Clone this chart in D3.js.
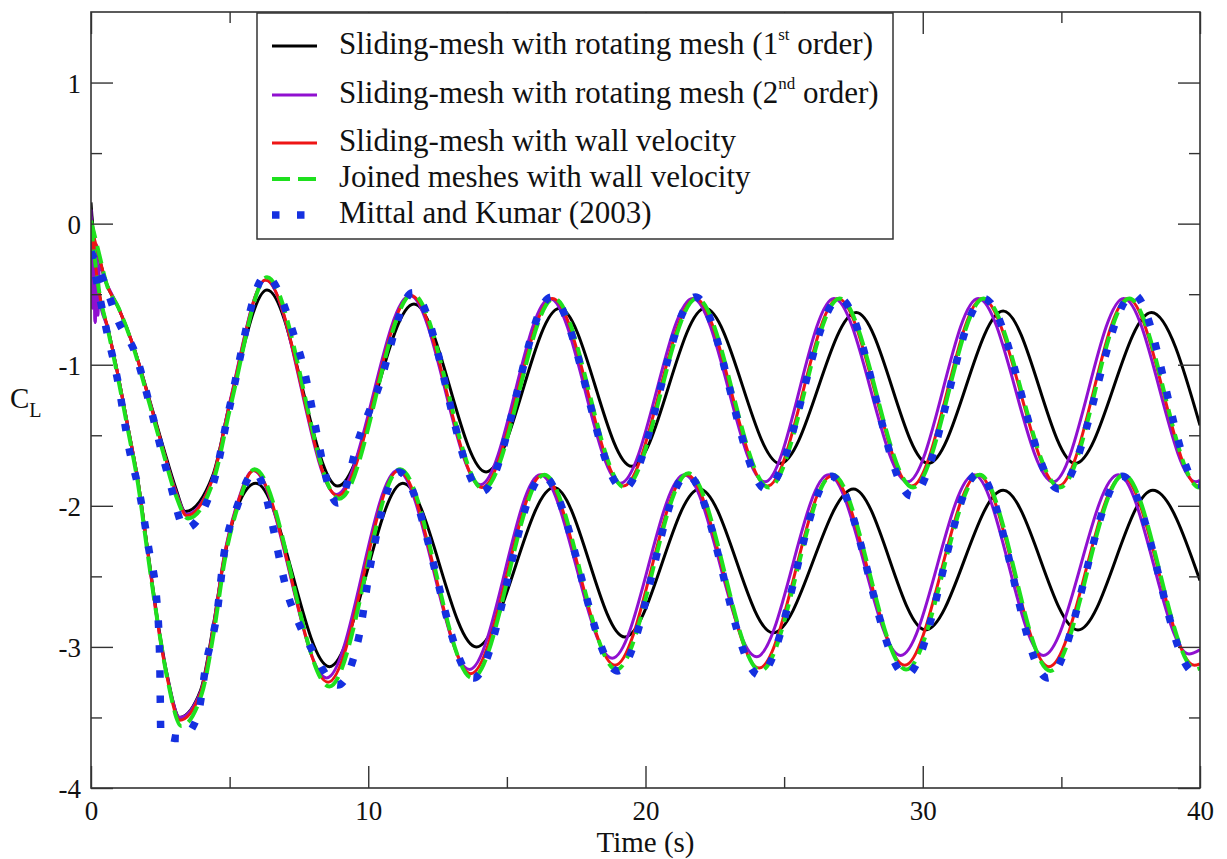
<!DOCTYPE html>
<html>
<head>
<meta charset="utf-8">
<script src="https://cdn.jsdelivr.net/npm/d3@7"></script>
<style>
  body { margin: 0; background: #fff; }
  svg { display: block; }
  text { font-family: 'Liberation Serif', 'Times New Roman', serif; fill: #111; }
  .frame { fill: none; stroke: #333; stroke-width: 1.6; }
  .axis .tick line { stroke: #333; stroke-width: 1.4; }
  .axis .tick text { font-size: 27px; }
  .axis path.domain { display: none; }
  .legend-text { font-size: 31px; }
</style>
</head>
<body>
<svg id="chart" width="1227" height="859"></svg>
<script>
//////////////////////////////////////////////////////////////////////////////////////////
// Data (time in s, lift coefficient C_L)
//////////////////////////////////////////////////////////////////////////////////////////

var x_major_ticks = [0, 10, 20, 30, 40]
var x_minor_ticks = [5, 15, 25, 35]
var y_major_ticks = [-4, -3, -2, -1, 0, 1]
var y_minor_ticks = [-3.5, -2.5, -1.5, -0.5, 0.5]

var legend_labels = [
  ['Sliding-mesh with rotating mesh (1', 'st', 'order)'],
  ['Sliding-mesh with rotating mesh (2', 'nd', 'order)'],
  ['Sliding-mesh with wall velocity'],
  ['Joined meshes with wall velocity'],
  ['Mittal and Kumar (2003)']
]

// upper group of curves
var rot1_upper = [[0, 0.15], [0.1, -0.1], [0.3, -0.25], [0.55, -0.42], [1.0, -0.6], [1.55, -0.88],
  [2.1, -1.24], [2.6, -1.58], [3.05, -1.87], [3.4, -2.04], [4.4, -1.78], [5.0, -1.28], [6.35, -0.47],
  [8.9, -1.86], [11.65, -0.57], [14.25, -1.76], [16.9, -0.6], [19.5, -1.72], [22.15, -0.6],
  [24.85, -1.7], [27.6, -0.63], [30.2, -1.7], [32.9, -0.62], [35.5, -1.7], [38.25, -0.63], [40, -1.43]]

var rot2_upper = [[0, 0.1], [0.05, -0.6], [0.1, -0.05], [0.15, -0.7], [0.2, -0.15], [0.25, -0.65],
  [0.3, -0.3], [0.55, -0.42], [1.0, -0.6], [1.55, -0.88], [2.1, -1.25], [2.6, -1.6], [3.05, -1.89],
  [3.45, -2.06], [4.4, -1.8], [5.0, -1.27], [6.3, -0.4], [8.85, -1.92], [11.5, -0.51], [14.05, -1.85],
  [16.55, -0.53], [19.1, -1.84], [21.7, -0.53], [24.3, -1.83], [26.8, -0.53], [29.45, -1.83],
  [32.0, -0.53], [34.7, -1.83], [37.25, -0.53], [39.85, -1.83], [40, -1.82]]

var wall_upper = [[0, -0.02], [0.3, -0.24], [0.55, -0.42], [1.0, -0.6], [1.55, -0.88], [2.1, -1.25],
  [2.6, -1.6], [3.05, -1.9], [3.45, -2.07], [4.4, -1.8], [5.0, -1.28], [6.3, -0.4], [8.9, -1.93],
  [11.55, -0.51], [14.1, -1.87], [16.65, -0.53], [19.2, -1.86], [21.8, -0.53], [24.4, -1.86],
  [26.95, -0.53], [29.6, -1.86], [32.15, -0.53], [34.9, -1.86], [37.4, -0.53], [39.95, -1.86], [40, -1.86]]

var joined_upper = [[0, 0.02], [0.3, -0.22], [0.55, -0.42], [1.0, -0.6], [1.55, -0.89], [2.1, -1.27],
  [2.6, -1.62], [3.05, -1.92], [3.5, -2.09], [4.45, -1.8], [5.05, -1.28], [6.35, -0.38], [8.95, -1.95],
  [11.6, -0.5], [14.15, -1.88], [16.7, -0.53], [19.25, -1.87], [21.85, -0.53], [24.45, -1.87],
  [27.0, -0.53], [29.65, -1.87], [32.2, -0.53], [34.95, -1.87], [37.45, -0.53], [39.98, -1.87], [40, -1.87]]

var mittal_upper = [[0, -0.2], [0.45, -0.4], [1.0, -0.7], [1.6, -0.92], [2.1, -1.27], [2.8, -1.8],
  [3.4, -2.16], [4.4, -1.85], [5.0, -1.3], [6.3, -0.37], [7.5, -0.9], [8.9, -1.98], [9.7, -1.5],
  [10.3, -1.2], [11.6, -0.49], [14.1, -1.9], [16.6, -0.52], [19.2, -1.88], [21.8, -0.52],
  [24.35, -1.88], [27.0, -0.53], [29.6, -1.93], [32.2, -0.53], [34.9, -1.88], [37.6, -0.5],
  [39.95, -1.85], [40, -1.85]]

// lower group of curves
var rot1_lower = [[0, 0.1], [0.27, -0.46], [0.63, -0.76], [1.0, -1.1], [1.35, -1.46], [1.7, -1.83],
  [2.03, -2.29], [2.38, -2.78], [2.75, -3.2], [3.2, -3.5], [3.95, -3.31], [4.42, -2.84], [4.8, -2.38],
  [5.3, -2.0], [5.95, -1.84], [8.6, -3.14], [11.25, -1.84], [13.9, -3.0], [16.7, -1.87], [19.25, -2.93],
  [21.95, -1.88], [24.6, -2.9], [27.5, -1.88], [30.1, -2.88], [32.9, -1.89], [35.6, -2.88],
  [38.3, -1.89], [40, -2.53]]

var rot2_lower = [[0, 0.05], [0.05, -0.55], [0.1, -0.1], [0.15, -0.7], [0.2, -0.2], [0.27, -0.5],
  [0.63, -0.76], [1.0, -1.1], [1.35, -1.46], [1.7, -1.83], [2.03, -2.3], [2.38, -2.8], [2.75, -3.21],
  [3.2, -3.5], [3.95, -3.32], [4.42, -2.85], [4.78, -2.38], [5.28, -1.98], [5.85, -1.75], [8.5, -3.22],
  [11.05, -1.75], [13.65, -3.16], [16.2, -1.78], [18.8, -3.08], [21.4, -1.78], [24.0, -3.07],
  [26.6, -1.78], [29.2, -3.06], [31.85, -1.78], [34.35, -3.06], [37.05, -1.78], [39.6, -3.05], [40, -3.02]]

var wall_lower = [[0, 0.0], [0.27, -0.46], [0.63, -0.76], [1.0, -1.1], [1.35, -1.46], [1.7, -1.83],
  [2.03, -2.3], [2.38, -2.8], [2.75, -3.22], [3.2, -3.52], [3.95, -3.33], [4.42, -2.86], [4.78, -2.39],
  [5.28, -1.99], [5.87, -1.75], [8.55, -3.25], [11.1, -1.75], [13.7, -3.19], [16.3, -1.78],
  [18.9, -3.13], [21.5, -1.78], [24.1, -3.15], [26.7, -1.79], [29.35, -3.13], [32.0, -1.78],
  [34.55, -3.14], [37.2, -1.79], [39.8, -3.13], [40, -3.12]]

var joined_lower = [[0, 0.0], [0.27, -0.45], [0.63, -0.77], [1.0, -1.12], [1.35, -1.48], [1.7, -1.85],
  [2.03, -2.32], [2.4, -2.82], [2.78, -3.25], [3.25, -3.56], [4.0, -3.33], [4.46, -2.86], [4.82, -2.39],
  [5.32, -1.99], [5.9, -1.74], [8.6, -3.28], [11.15, -1.74], [13.75, -3.22], [16.35, -1.78],
  [18.95, -3.16], [21.55, -1.77], [24.15, -3.17], [26.75, -1.78], [29.4, -3.16], [32.05, -1.78],
  [34.6, -3.17], [37.25, -1.78], [39.85, -3.16], [40, -3.15]]

var mittal_lower = [[0, -0.2], [0.5, -0.7], [1.0, -1.15], [1.36, -1.58], [1.78, -1.94], [2.08, -2.3],
  [2.38, -2.69], [2.48, -3.1], [2.52, -3.62], [3.22, -3.65], [3.83, -3.5], [4.17, -3.1], [4.54, -2.77],
  [4.8, -2.34], [5.28, -2.0], [5.9, -1.76], [7.2, -2.69], [8.0, -3.03], [8.9, -3.27], [9.65, -2.94],
  [10.1, -2.4], [11.1, -1.76], [13.8, -3.22], [16.3, -1.79], [19.0, -3.17], [21.5, -1.78],
  [24.1, -3.2], [26.7, -1.79], [29.4, -3.2], [32.0, -1.77], [34.5, -3.22], [37.2, -1.79],
  [39.8, -3.18], [40, -3.16]]

//////////////////////////////////////////////////////////////////////////////////////////
// Styles
//////////////////////////////////////////////////////////////////////////////////////////

var plot = { 'left': 91, 'right': 1200, 'top': 12, 'bottom': 788 }

var series_style = [
  { 'color': '#000000', 'width': 3, 'dash': null },
  { 'color': '#9010d0', 'width': 3, 'dash': null },
  { 'color': '#ee1515', 'width': 3, 'dash': null },
  { 'color': '#1ee01e', 'width': 4, 'dash': '18,8' },
  { 'color': '#1530e0', 'width': 7.5, 'dash': '7.5,17.5' }
]

var series_data = [
  [rot1_upper, rot1_lower],
  [rot2_upper, rot2_lower],
  [wall_upper, wall_lower],
  [joined_upper, joined_lower],
  [mittal_upper, mittal_lower]
]

//////////////////////////////////////////////////////////////////////////////////////////
// Scales
//////////////////////////////////////////////////////////////////////////////////////////

var svg = d3.select('#chart')

var x = d3.scaleLinear().domain([0, 40]).range([plot.left, plot.right])
var y = d3.scaleLinear().domain([-4, 1.5]).range([plot.bottom, plot.top])

draw_curves()
draw_frame_and_axes()
draw_axis_titles()
draw_legend()

//////////////////////////////////////////////////////////////////////////////////////////
// Curves
//////////////////////////////////////////////////////////////////////////////////////////

function draw_curves() {
  svg.append('clipPath')
    .attr('id', 'clip-plot')
    .append('rect')
    .attr('x', plot.left)
    .attr('y', plot.top)
    .attr('width', plot.right - plot.left)
    .attr('height', plot.bottom - plot.top)

  var line = d3.line()
    .x(function(d) { return x(d[0]) })
    .y(function(d) { return y(d[1]) })
    .curve(d3.curveMonotoneX)

  var g = svg.append('g').attr('clip-path', 'url(#clip-plot)')

  series_data.forEach(function(groups, i) {
    var st = series_style[i]
    g.selectAll('.curve-' + i)
      .data(groups)
      .enter()
      .append('path')
      .attr('class', 'curve-' + i)
      .attr('d', line)
      .attr('fill', 'none')
      .attr('stroke', st.color)
      .attr('stroke-width', st.width)
      .attr('stroke-dasharray', st.dash)
      .attr('stroke-linejoin', 'round')
  })
}

//////////////////////////////////////////////////////////////////////////////////////////
// Frame and ticks (inward, on all four sides)
//////////////////////////////////////////////////////////////////////////////////////////

function draw_frame_and_axes() {
  var major = 22
  var minor = 11
  var fmt = function(d) { return String(d) }

  function add_axis(axis, tx, ty) {
    return svg.append('g')
      .attr('class', 'axis')
      .attr('transform', 'translate(' + tx + ',' + ty + ')')
      .call(axis)
  }

  var bottom = add_axis(d3.axisBottom(x).tickValues(x_major_ticks).tickSize(-major).tickFormat(fmt), 0, plot.bottom)
  bottom.selectAll('text').attr('y', 32).attr('dy', 0)
  add_axis(d3.axisBottom(x).tickValues(x_minor_ticks).tickSize(-minor).tickFormat(''), 0, plot.bottom)
  add_axis(d3.axisTop(x).tickValues(x_major_ticks).tickSize(-major).tickFormat(''), 0, plot.top)
  add_axis(d3.axisTop(x).tickValues(x_minor_ticks).tickSize(-minor).tickFormat(''), 0, plot.top)

  var left = add_axis(d3.axisLeft(y).tickValues(y_major_ticks).tickSize(-major).tickFormat(fmt), plot.left, 0)
  left.selectAll('text').attr('x', -10).attr('dy', '0.36em')
  add_axis(d3.axisLeft(y).tickValues(y_minor_ticks).tickSize(-minor).tickFormat(''), plot.left, 0)
  add_axis(d3.axisRight(y).tickValues(y_major_ticks).tickSize(-major).tickFormat(''), plot.right, 0)
  add_axis(d3.axisRight(y).tickValues(y_minor_ticks).tickSize(-minor).tickFormat(''), plot.right, 0)

  svg.append('rect')
    .attr('class', 'frame')
    .attr('x', plot.left)
    .attr('y', plot.top)
    .attr('width', plot.right - plot.left)
    .attr('height', plot.bottom - plot.top)
}

function draw_axis_titles() {
  svg.append('text')
    .attr('x', (plot.left + plot.right) / 2)
    .attr('y', 852)
    .attr('text-anchor', 'middle')
    .style('font-size', '29px')
    .text('Time (s)')

  var cl = svg.append('text')
    .attr('x', 10)
    .attr('y', 408)
    .style('font-size', '29px')
  cl.append('tspan').text('C')
  cl.append('tspan').attr('dy', 9).style('font-size', '20px').text('L')
}

//////////////////////////////////////////////////////////////////////////////////////////
// Legend
//////////////////////////////////////////////////////////////////////////////////////////

function draw_legend() {
  var box = { 'x': 257, 'y': 13, 'w': 636, 'h': 226 }
  var row_y = [46, 95, 143, 179, 215]

  var g = svg.append('g').attr('id', 'g-legend')

  g.append('rect')
    .attr('x', box.x)
    .attr('y', box.y)
    .attr('width', box.w)
    .attr('height', box.h)
    .attr('fill', '#fff')
    .attr('stroke', '#333')
    .attr('stroke-width', 1.5)

  g.selectAll('.legend-sample')
    .data(series_style)
    .enter()
    .append('line')
    .attr('class', 'legend-sample')
    .attr('x1', 272)
    .attr('x2', 317)
    .attr('y1', function(d, i) { return row_y[i] })
    .attr('y2', function(d, i) { return row_y[i] })
    .attr('stroke', function(d) { return d.color })
    .attr('stroke-width', function(d) { return d.width })
    .attr('stroke-dasharray', function(d) { return d.dash })

  g.selectAll('.legend-text')
    .data(legend_labels)
    .enter()
    .append('text')
    .attr('class', 'legend-text')
    .attr('x', 339)
    .attr('y', function(d, i) { return row_y[i] + 8 })
    .each(function(parts) {
      var t = d3.select(this)
      t.append('tspan').text(parts[0])
      if (parts.length > 1) {
        t.append('tspan').attr('dy', -14).style('font-size', '17px').text(parts[1])
        t.append('tspan').attr('dy', 14).text('\u00a0' + parts[2])
      }
    })
}
</script>
</body>
</html>
